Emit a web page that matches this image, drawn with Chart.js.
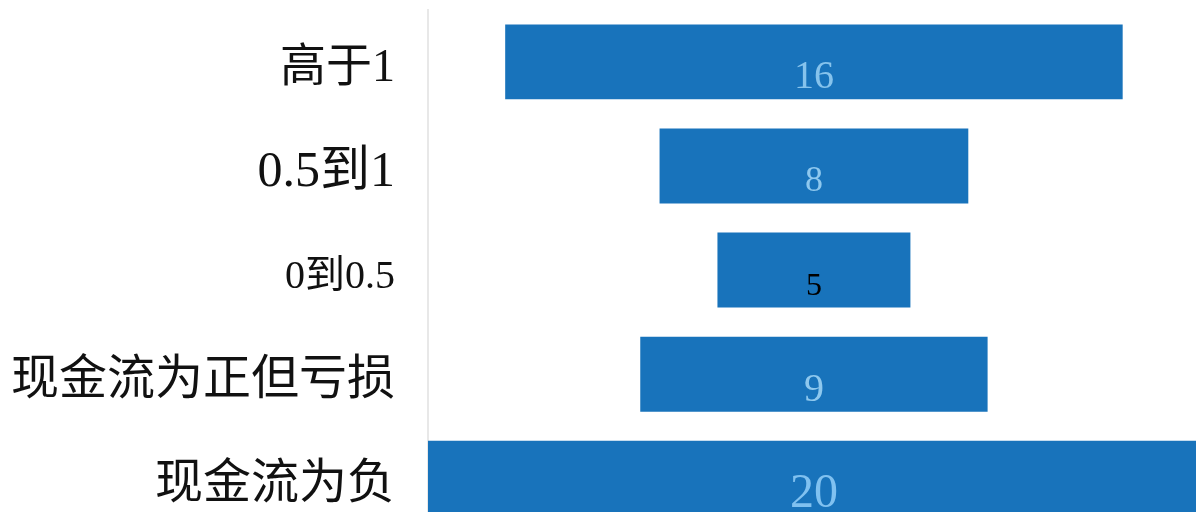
<!DOCTYPE html>
<html lang="zh">
<head>
    <meta charset="UTF-8">
    <title>现金流分布</title>
    <script src="https://cdn.jsdelivr.net/npm/chart.js"></script>
    <style>
        body {
            margin: 0;
            background: white;
            overflow: hidden;
        }

        .chart-container {
            width: 1196px;
            height: 627px;
            margin-top: -44px;
        }
    </style>
</head>
<body>
    <div class="chart-container">
        <canvas id="funnelChart"></canvas>
    </div>

<script>
    let categories = ["高于1", "0.5到1", "0到0.5", "现金流为正但亏损", "现金流为负"];
    let counts = [16, 8, 5, 9, 20];

    // per-label look, the source picture mixes sizes
    let labelSizes = [46, 50, 40, 48, 48];
    let valueSizes = [40, 36, 32, 40, 48];
    let valueColors = ["#86c3ec", "#8ec8ee", "#000000", "#8ec8ee", "#80c1f0"];

    // bars are centered on zero, like a funnel
    let spans = counts.map(v => [-v / 2, v / 2]);

    const valueLabels = {
        id: "valueLabels",
        afterDatasetsDraw(chart) {
            let ctx = chart.ctx;
            let meta = chart.getDatasetMeta(0);
            ctx.save();
            ctx.textAlign = "center";
            ctx.textBaseline = "middle";
            meta.data.forEach((bar, i) => {
                ctx.font = valueSizes[i] + "px 'Liberation Serif', serif";
                ctx.fillStyle = valueColors[i];
                let cx = (bar.x + bar.base) / 2;
                ctx.fillText(counts[i], cx, bar.y + 16);
            });
            ctx.restore();
        }
    };

    let ctx = document.getElementById("funnelChart").getContext("2d");
    let funnelChart = new Chart(ctx, {
        type: "bar",
        data: {
            labels: categories,
            datasets: [{
                data: spans,
                backgroundColor: "#1873bb",
                borderWidth: 0,
                barPercentage: 0.72,
                categoryPercentage: 1
            }]
        },
        options: {
            indexAxis: "y",
            responsive: true,
            maintainAspectRatio: false,
            animation: false,
            layout: {
                padding: { top: 10, bottom: 10, right: 0, left: 0 }
            },
            scales: {
                x: {
                    display: false,
                    min: -10,
                    max: 9.9
                },
                y: {
                    afterFit: scale => { scale.width = 428; },
                    grid: { display: false },
                    border: { display: true, color: "#e8e8e8", width: 2 },
                    ticks: {
                        padding: 25,
                        labelOffset: 7,
                        color: "#111",
                        font: c => ({
                            family: "'Liberation Serif', 'Noto Sans CJK SC', serif",
                            size: labelSizes[c.index]
                        })
                    }
                }
            },
            plugins: {
                legend: { display: false },
                tooltip: { enabled: false }
            }
        },
        plugins: [valueLabels]
    });
</script>
</body>
</html>
